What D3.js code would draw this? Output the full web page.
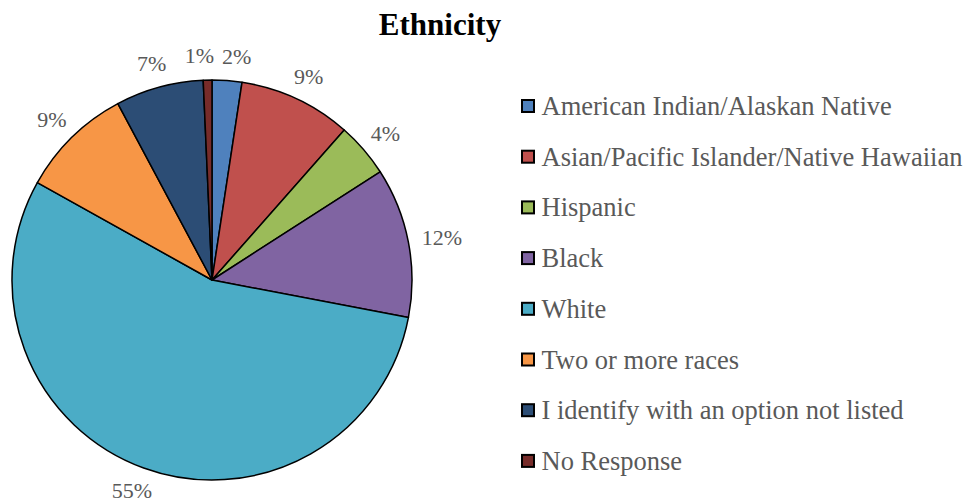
<!DOCTYPE html>
<html>
<head>
<meta charset="utf-8">
<script src="https://cdn.jsdelivr.net/npm/d3@7"></script>
<style>
  body { margin: 0; background: #fff; }
  svg { display: block; font-family: "Liberation Serif", "Times New Roman", serif; }
</style>
</head>
<body>
<div id="chart"></div>
<script>
// ethnicity breakdown (percent of respondents)
var categories = [
    "American Indian/Alaskan Native",
    "Asian/Pacific Islander/Native Hawaiian",
    "Hispanic",
    "Black",
    "White",
    "Two or more races",
    "I identify with an option not listed",
    "No Response"
];
var values = [2.4, 9.1, 4.4, 12.1, 55.1, 9.1, 7.1, 0.7];
var labels = ["2%", "9%", "4%", "12%", "55%", "9%", "7%", "1%"];
var colors = ["#4F81BD", "#C0504D", "#9BBB59", "#8064A2", "#4BACC6", "#F79646", "#2C4D75", "#772C2A"];

var width = 969, height = 502;
var cx = 212, cy = 280, radius = 200;

var svg = d3.select("#chart").append("svg")
    .attr("width", width)
    .attr("height", height);

svg.append("text")
    .attr("x", 440)
    .attr("y", 35)
    .attr("text-anchor", "middle")
    .style("font-size", "31px")
    .style("font-weight", "bold")
    .style("fill", "#000")
    .text("Ethnicity");

var data = categories.map(function(c, i) {
    return { name: c, value: values[i], label: labels[i], color: colors[i] };
});

var pie = d3.pie().sort(null).value(function(d) { return d.value; });
var arc = d3.arc().innerRadius(0).outerRadius(radius);
var arcs = pie(data);

var pieG = svg.append("g").attr("transform", "translate(" + cx + "," + cy + ")");

pieG.selectAll("path")
    .data(arcs)
    .enter().append("path")
    .attr("d", arc)
    .style("fill", function(d) { return d.data.color; })
    .style("stroke", "#000")
    .style("stroke-width", 1.5)
    .style("stroke-linejoin", "round");

// outside-end labels: push the text box just past the rim along the mid angle
var fontSize = 22, gap = 14;
var pct = pieG.selectAll("text.pct")
    .data(arcs)
    .enter().append("text")
    .attr("class", "pct")
    .attr("text-anchor", "middle")
    .style("font-size", fontSize + "px")
    .style("fill", "#595959")
    .text(function(d) { return d.data.label; });

pct.each(function(d) {
    var a = (d.startAngle + d.endAngle) / 2;
    var halfW = this.getComputedTextLength() / 2;
    var halfH = fontSize * 0.45;
    d.lx = (radius + gap) * Math.sin(a) + halfW * Math.sin(a);
    d.ly = -(radius + gap) * Math.cos(a) - halfH * Math.cos(a);
    d.w = halfW * 2;
});

// crude overlap fix for neighbouring labels (thin slices near the top)
for (var i = 0; i < arcs.length; i++) {
    var a = arcs[i], b = arcs[(i + arcs.length - 1) % arcs.length];
    var minDx = (a.w + b.w) / 2 + 8;
    if (Math.abs(a.ly - b.ly) < fontSize && Math.abs(a.lx - b.lx) < minDx) {
        var push = (minDx - Math.abs(a.lx - b.lx)) / 2;
        var sign = a.lx >= b.lx ? 1 : -1;
        a.lx += sign * push;
        b.lx -= sign * push;
    }
}

pct.attr("x", function(d) { return d.lx; })
    .attr("y", function(d) { return d.ly + fontSize * 0.33; });

// legend
var legend = svg.append("g").attr("transform", "translate(521,115)");
var rowH = 50.7;

var rows = legend.selectAll("g")
    .data(data)
    .enter().append("g")
    .attr("transform", function(d, i) { return "translate(0," + (i * rowH) + ")"; });

rows.append("rect")
    .attr("x", 1)
    .attr("y", -15)
    .attr("width", 12)
    .attr("height", 12)
    .style("fill", function(d) { return d.color; })
    .style("stroke", "#000")
    .style("stroke-width", 2);

rows.append("text")
    .attr("x", 20.5)
    .attr("y", 0)
    .style("font-size", "26.5px")
    .style("fill", "#595959")
    .text(function(d) { return d.name; });
</script>
</body>
</html>
